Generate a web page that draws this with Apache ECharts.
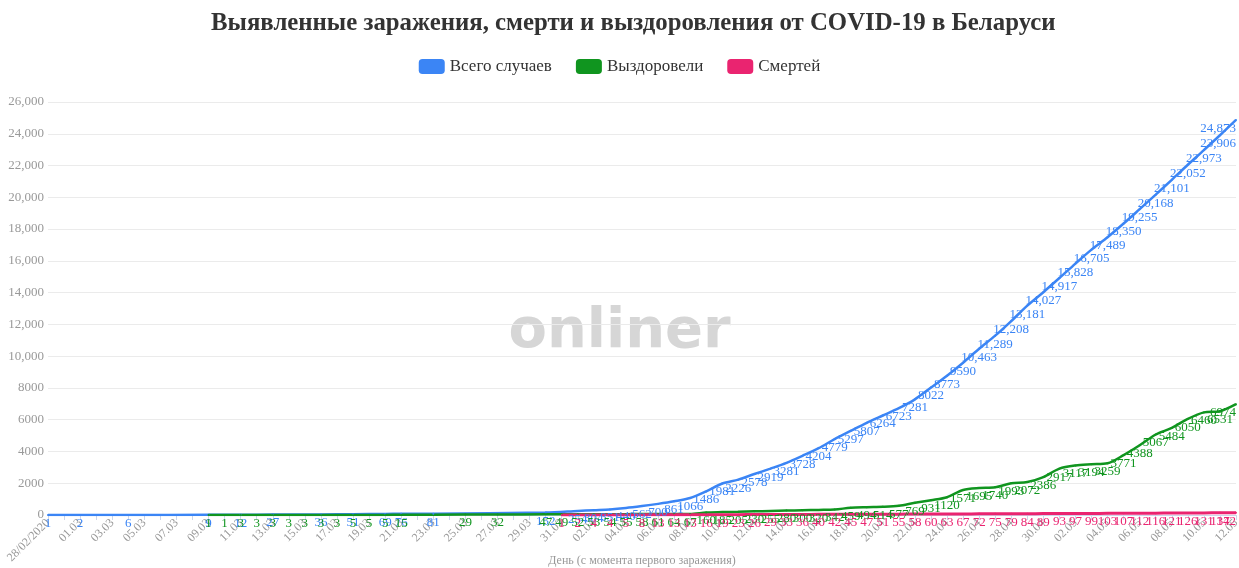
<!DOCTYPE html>
<html>
<head>
<meta charset="utf-8">
<script src="https://cdn.jsdelivr.net/npm/echarts@6/dist/echarts.min.js"></script>
<style>
html,body{margin:0;padding:0;background:#fff;}
#c{width:1239px;height:568px;}
</style>
</head>
<body>
<div id="c"></div>
<script>
var categories = ['28/02/2020','29.02','01.03','02.03','03.03','04.03','05.03','06.03','07.03','08.03',
'09.03','10.03','11.03','12.03','13.03','14.03','15.03','16.03','17.03','18.03',
'19.03','20.03','21.03','22.03','23.03','24.03','25.03','26.03','27.03','28.03',
'29.03','30.03','31.03','01.04','02.04','03.04','04.04','05.04','06.04','07.04',
'08.04','09.04','10.04','11.04','12.04','13.04','14.04','15.04','16.04','17.04',
'18.04','19.04','20.04','21.04','22.04','23.04','24.04','25.04','26.04','27.04',
'28.04','29.04','30.04','01.05','02.05','03.05','04.05','05.05','06.05','07.05',
'08.05','09.05','10.05','11.05','12.05'];

var totalCases = [1,null,2,null,null,6,null,null,null,null,
9,null,12,null,27,null,null,36,null,51,
null,69,76,null,81,null,null,null,null,null,
null,152,null,254,304,351,440,562,700,861,
1066,1486,1981,2226,2578,2919,3281,3728,4204,4779,
5297,5807,6264,6723,7281,8022,8773,9590,10463,11289,
12208,13181,14027,14917,15828,16705,17489,18350,19255,20168,
21101,22052,22973,23906,24873];

var recovered = [null,null,null,null,null,null,null,null,null,null,
1,1,3,3,3,3,3,3,3,5,
5,5,15,null,null,null,29,null,32,null,
null,47,49,52,53,54,55,58,61,64,
67,160,185,205,230,255,280,300,320,342,
459,494,514,577,769,931,1120,1571,1695,1740,
1993,2072,2386,2917,3117,3194,3259,3771,4388,5067,
5484,6050,6460,6531,6974];

var deaths = [null,null,null,null,null,null,null,null,null,null,
null,null,null,null,null,null,null,null,null,null,
null,null,null,null,null,null,null,null,null,null,
null,null,1,2,4,4,5,8,13,13,
13,16,19,23,26,29,33,36,40,42,
45,47,51,55,58,60,63,67,72,75,
79,84,89,93,97,99,103,107,112,116,
121,126,131,137,142];

var yTicks = {min: 0, max: 26000, interval: 2000};

function fmt(v){
  if (v == null) return '';
  v = Number(v);
  return v >= 10000 ? v.toLocaleString('en-US') : String(v);
}

var FONT = '"Liberation Serif", "DejaVu Serif", serif';
var C_BLUE = '#3b85f5', C_GREEN = '#10951f', C_PINK = '#ea2470';
var PLOT_RIGHT = 1236;

function mkSeries(name, data, color, width){
  return {
    name: name, type: 'line', data: data,
    connectNulls: true, smooth: 0.3,
    symbol: 'circle', symbolSize: 2, showSymbol: true, showAllSymbol: true,
    lineStyle: {width: width, color: color},
    itemStyle: {color: color},
    label: {
      show: true, position: 'bottom', distance: 1,
      color: color, fontFamily: FONT, fontSize: 13,
      formatter: function(p){ return fmt(p.value); }
    },
    labelLayout: function(p){
      var r = p.labelRect;
      if (r.x + r.width > PLOT_RIGHT) return {dx: PLOT_RIGHT - (r.x + r.width)};
      return {};
    },
    emphasis: {disabled: true},
    animation: false
  };
}

var chart = echarts.init(document.getElementById('c'));
chart.setOption({
  animation: false,
  backgroundColor: '#fff',
  title: {
    text: 'Выявленные заражения, смерти и выздоровления от COVID-19 в Беларуси',
    left: 206, top: 6,
    textStyle: {fontFamily: FONT, fontWeight: 'bold', fontSize: 24.8, color: '#333'}
  },
  legend: {
    top: 53, left: 'center', itemWidth: 26, itemHeight: 15, itemGap: 24,
    icon: 'roundRect',
    textStyle: {fontFamily: FONT, fontSize: 17, color: '#333'},
    data: ['Всего случаев','Выздоровели','Смертей']
  },
  graphic: [{
    type: 'text', left: 'center', top: 304,
    style: {text: 'onliner', fill: '#d6d6d6', font: 'bold 56px "DejaVu Sans", sans-serif'},
    z: -1
  }],
  grid: {left: 48, right: 3, top: 102, bottom: 53, containLabel: false, outerBoundsMode: 'none'},
  xAxis: {
    type: 'category', data: categories, boundaryGap: false,
    name: 'День (с момента первого заражения)', nameLocation: 'middle', nameGap: 40,
    nameMoveOverlap: false,
    nameTextStyle: {fontFamily: FONT, fontSize: 12, color: '#999'},
    axisLine: {lineStyle: {color: '#ccd6eb'}},
    axisTick: {show: true, interval: 0, length: 5, lineStyle: {color: '#ccd6eb'}},
    axisLabel: {interval: 1, rotate: 45, fontFamily: FONT, fontSize: 12, color: '#999', margin: 6}
  },
  yAxis: {
    type: 'value', min: yTicks.min, max: yTicks.max, interval: yTicks.interval,
    axisLine: {show: false}, axisTick: {show: false},
    splitLine: {lineStyle: {color: '#ebebeb'}},
    axisLabel: {fontFamily: FONT, fontSize: 13, color: '#999', margin: 4,
      formatter: function(v){ return fmt(v); }}
  },
  series: [
    mkSeries('Всего случаев', totalCases, C_BLUE, 2.5),
    mkSeries('Выздоровели', recovered, C_GREEN, 2.5),
    mkSeries('Смертей', deaths, C_PINK, 3)
  ]
});
</script>
</body>
</html>
